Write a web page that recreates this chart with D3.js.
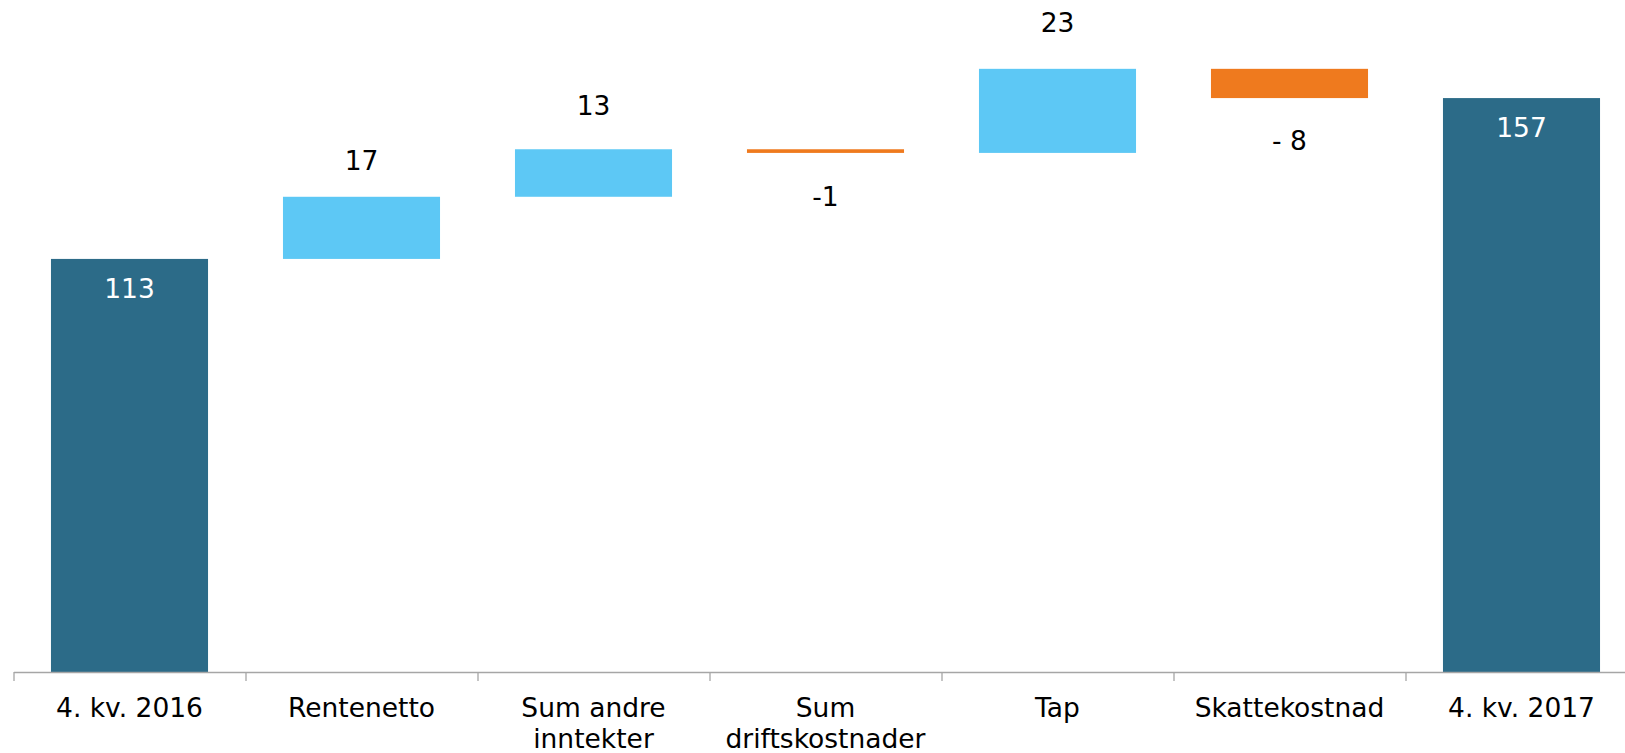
<!DOCTYPE html>
<html>
<head>
<meta charset="utf-8">
<script src="https://cdn.jsdelivr.net/npm/d3@7"></script>
<style>
  html, body { margin: 0; padding: 0; background: #fff; }
  svg { display: block; font-family: "DejaVu Sans", Verdana, sans-serif; }
</style>
</head>
<body>
<svg id="chart" width="1625" height="753"></svg>
<script>
// ---- data ----
const categories = ["4. kv. 2016", "Rentenetto", "Sum andre inntekter", "Sum driftskostnader", "Tap", "Skattekostnad", "4. kv. 2017"];
const categoryLines = [["4. kv. 2016"], ["Rentenetto"], ["Sum andre", "inntekter"], ["Sum", "driftskostnader"], ["Tap"], ["Skattekostnad"], ["4. kv. 2017"]];
const values = [113, 17, 13, -1, 23, -8, 157];
const kinds = ["total", "delta", "delta", "delta", "delta", "delta", "total"];
const valueLabels = ["113", "17", "13", "-1", "23", "- 8", "157"];
// helper (invisible) label series, in value units
const labelAnchors = [null, 140, 155, 130.2, 177.6, 145.5, null];
const yDomain = [0, 180];

// ---- layout ----
const svg = d3.select("#chart");
const axisY = 672;
const x0 = 13.5, x1 = 1637.5;
const fontSize = 26.5;

const x = d3.scaleBand().domain(categories).range([x0, x1]).paddingInner(0.323).paddingOuter(0.1615);
const xTicks = d3.scaleLinear().domain([0, categories.length]).range([x0, x1]);
const y = d3.scaleLinear().domain(yDomain).range([axisY, 14]);

// compute waterfall segments
let running = 0;
const bars = categories.map((c, i) => {
  let lo, hi;
  if (kinds[i] === "total") {
    lo = 0; hi = values[i]; running = values[i];
  } else {
    const start = running, end = running + values[i];
    lo = Math.min(start, end); hi = Math.max(start, end); running = end;
  }
  let color;
  if (kinds[i] === "total") color = "#2C6B88";
  else color = values[i] >= 0 ? "#5DC8F5" : "#EF7A1E";
  return { c, i, lo, hi, color };
});

// bars
svg.append("g").selectAll("rect").data(bars).join("rect")
  .attr("x", d => x(d.c))
  .attr("width", x.bandwidth())
  .attr("y", d => y(d.hi))
  .attr("height", d => y(d.lo) - y(d.hi))
  .attr("fill", d => d.color);

// axis with boundary ticks
const tickAxis = d3.axisBottom(xTicks).tickValues(d3.range(categories.length + 1)).tickFormat("").tickSize(9).tickSizeOuter(0);
const gT = svg.append("g").attr("transform", `translate(0,${axisY})`).call(tickAxis);
gT.select(".domain").attr("stroke", "#A6A6A6").attr("stroke-width", 1.3);
gT.selectAll(".tick line").attr("stroke", "#A6A6A6").attr("stroke-width", 1.3);

// category labels
const labAxis = d3.axisBottom(x).tickSize(0).tickSizeOuter(0);
const gL = svg.append("g").attr("transform", `translate(0,${axisY})`).call(labAxis);
gL.select(".domain").remove();
gL.selectAll(".tick text")
  .attr("font-family", "'DejaVu Sans', Verdana, sans-serif")
  .attr("font-size", fontSize)
  .attr("fill", "#000")
  .attr("y", 44.7).attr("dy", null)
  .each(function(d) {
    const i = categories.indexOf(d);
    const t = d3.select(this);
    t.text(null);
    categoryLines[i].forEach((line, k) => {
      t.append("tspan").attr("x", 0).attr("y", 44.7 + k * 31.6).text(line);
    });
  });

// value labels
svg.append("g").selectAll("text").data(bars).join("text")
  .attr("x", d => x(d.c) + x.bandwidth() / 2)
  .attr("y", d => kinds[d.i] === "total" ? y(d.hi) + 39 : y(labelAnchors[d.i]) + 9.7)
  .attr("text-anchor", "middle")
  .attr("font-size", fontSize)
  .attr("fill", d => kinds[d.i] === "total" ? "#FFFFFF" : "#000000")
  .text(d => valueLabels[d.i]);
</script>
</body>
</html>
